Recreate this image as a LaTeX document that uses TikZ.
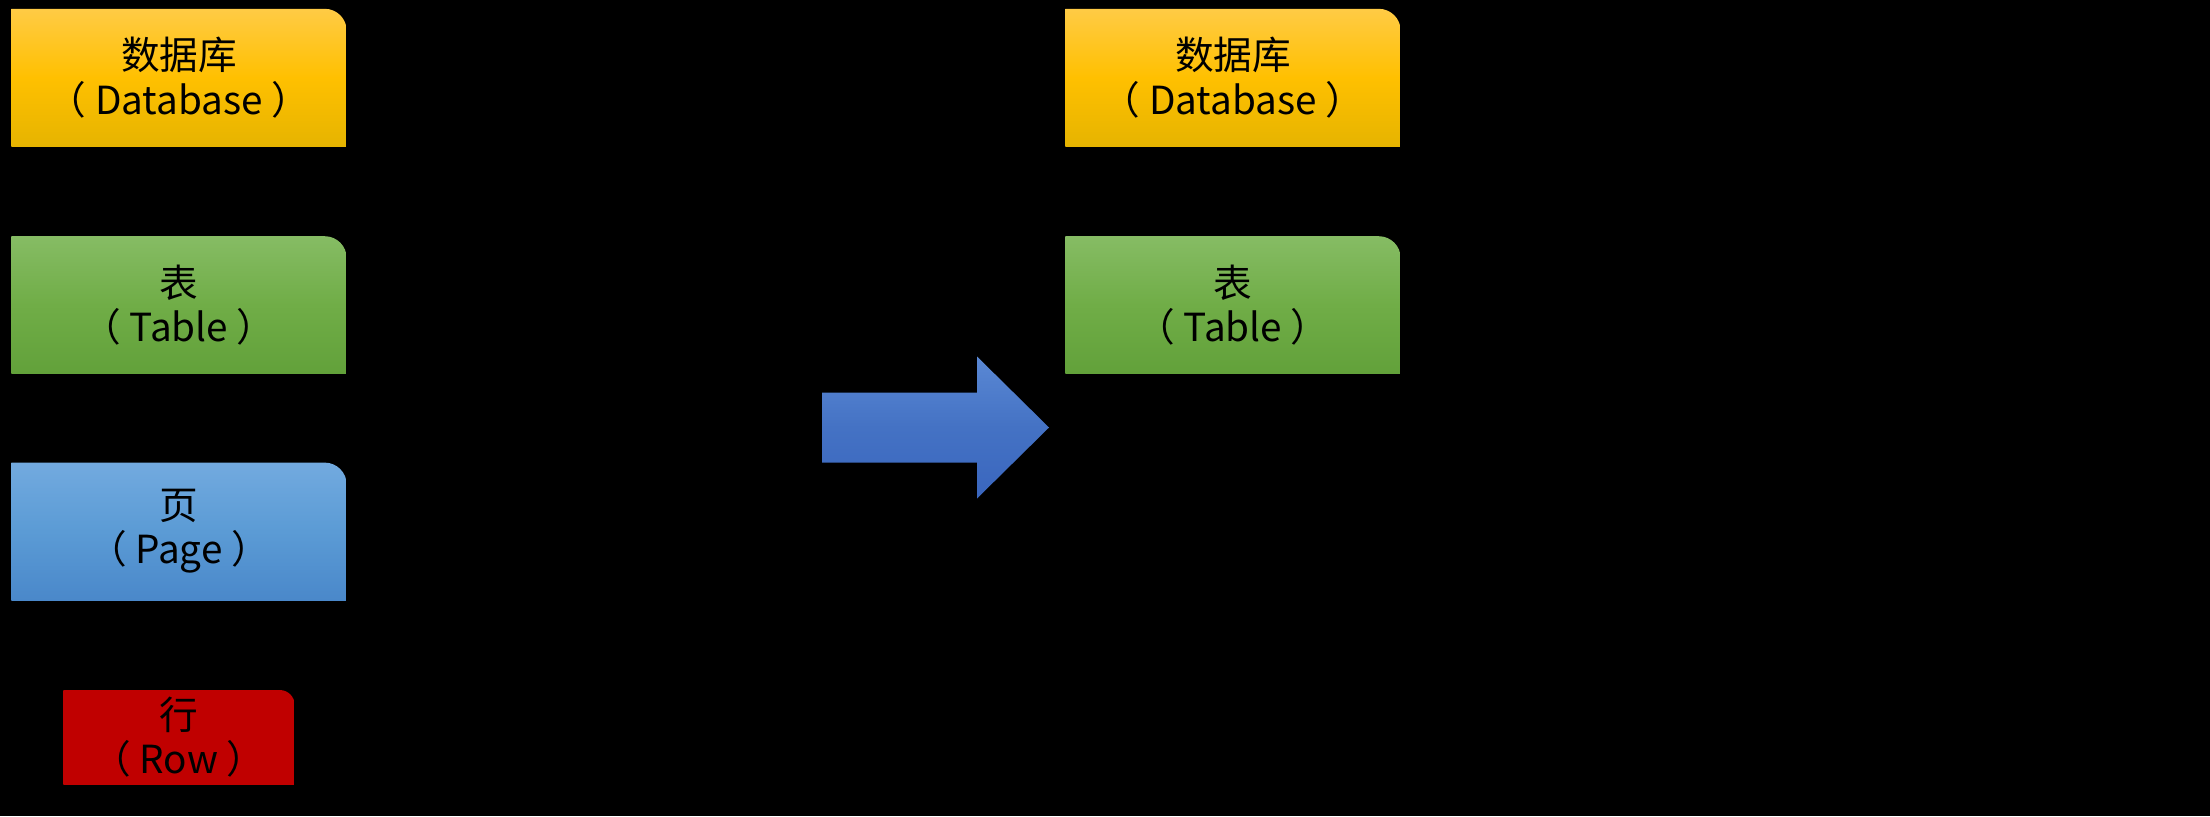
\documentclass[tikz,border=0pt]{standalone}
\usepackage{fontspec}
\setmainfont{Noto Sans CJK SC}
\usetikzlibrary{positioning,backgrounds}
\definecolor{yeltop}{HTML}{FFCB45}
\definecolor{yelmid}{HTML}{FFC000}
\definecolor{yelbot}{HTML}{E6B400}
\definecolor{grntop}{HTML}{86BC64}
\definecolor{grnmid}{HTML}{70AD47}
\definecolor{grnbot}{HTML}{62A13A}
\definecolor{blutop}{HTML}{72AADF}
\definecolor{blumid}{HTML}{5B9BD5}
\definecolor{blubot}{HTML}{4A88CA}
\definecolor{redtop}{HTML}{C00000}
\definecolor{redmid}{HTML}{C00000}
\definecolor{redbot}{HTML}{C00000}
\definecolor{arrtop}{HTML}{5A88D4}
\definecolor{arrmid}{HTML}{4472C4}
\definecolor{arrbot}{HTML}{3A66BE}
\begin{document}
\begin{tikzpicture}[font=\fontsize{11pt}{12.6pt}\selectfont,
  level/.style={minimum width=3.34cm,minimum height=1.36cm,inner sep=0pt,align=center,text=black},
  rowbox/.style={level,minimum width=2.30cm,minimum height=0.93cm}]
  \useasboundingbox (0,0) rectangle (22.1,8.16);

  % Storage levels before.
  \node[level] (db) at (1.79,7.385) {数据库\\（ Database ）};
  \node[level,below=0.9cm of db] (tb) {表\\（ Table ）};
  \node[level,below=0.89cm of tb] (pg) {页\\（ Page ）};
  \node[rowbox,below=0.9cm of pg] (row) {行\\（ Row ）};

  % Storage levels after.
  \node[level] (db2) at (12.33,7.385) {数据库\\（ Database ）};
  \node[level,below=0.9cm of db2] (tb2) {表\\（ Table ）};

  % Block arrow.
  \shade[top color=arrtop,bottom color=arrbot,middle color=arrmid]
    (8.22,3.535) -- (9.77,3.535) -- (9.77,3.175) -- (10.49,3.885)
    -- (9.77,4.595) -- (9.77,4.235) -- (8.22,4.235) -- cycle;

  \begin{scope}[on background layer]
    \fill[black] (0,0) rectangle (22.1,8.16);
    \foreach \n/\c/\r in {db/yel/0.22cm,tb/grn/0.22cm,pg/blu/0.22cm,row/red/0.15cm,db2/yel/0.22cm,tb2/grn/0.22cm}{
      \begin{scope}
        \clip[rounded corners=\r] ([shift={(-1,-1)}]\n.south west) rectangle (\n.north east);
        \shade[top color=\c top,bottom color=\c bot,middle color=\c mid] (\n.south west) rectangle (\n.north east);
      \end{scope}}
  \end{scope}
\end{tikzpicture}
\end{document}
